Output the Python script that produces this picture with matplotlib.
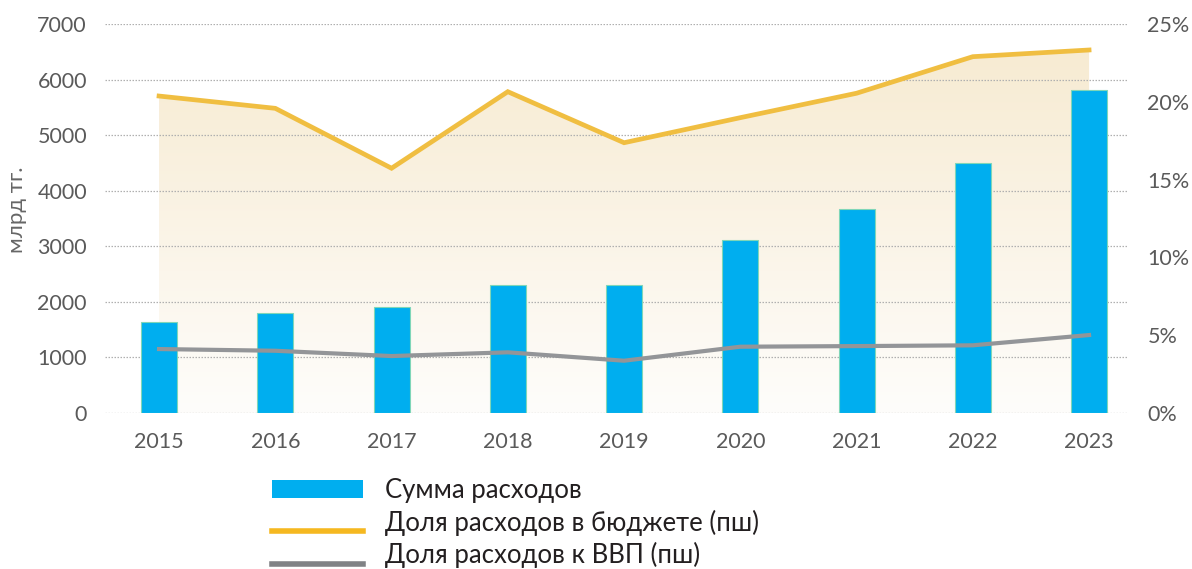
import numpy as np
import matplotlib
matplotlib.use("Agg")
import matplotlib.pyplot as plt
from matplotlib.patches import Polygon, Patch
from matplotlib.lines import Line2D
from matplotlib.colors import LinearSegmentedColormap
from matplotlib.ticker import FuncFormatter
from matplotlib.legend_handler import HandlerLine2D

plt.rcParams['font.family'] = ['Lato', 'DejaVu Sans']

years = ["2015", "2016", "2017", "2018", "2019", "2020", "2021", "2022", "2023"]
spending = [1630, 1800, 1913, 2303, 2303, 3119, 3671, 4504, 5812]
share_budget = [20.37, 19.58, 15.73, 20.65, 17.37, 18.98, 20.55, 22.9, 23.33]
share_gdp = [4.11, 4.0, 3.66, 3.9, 3.36, 4.26, 4.3, 4.35, 5.01]

labels = ["Сумма расходов", "Доля расходов в бюджете (пш)", "Доля расходов к ВВП (пш)"]

BLUE = "#00aeef"
YELLOW = "#f0be41"
GRAY = "#939598"
TICK = "#5a5a5a"

fig = plt.figure(figsize=(11.92, 5.69), dpi=100)
ax = fig.add_axes([105/1192, 1-413/569, (1128-105)/1192, (413-24)/569])
ax2 = ax.twinx()

x = np.arange(len(years))

ax.set_xlim(-0.465, 8.335)
ax.set_ylim(0, 7000)
ax2.set_ylim(0, 25)

# gradient fill under budget-share line
cmap = LinearSegmentedColormap.from_list("g", ["#fefdfb", "#f7ebd2"])
grad = np.linspace(0, 1, 256).reshape(-1, 1)
im = ax.imshow(grad, cmap=cmap, aspect="auto", origin="lower",
               extent=[x[0], x[-1], 0, max(share_budget) * 7000 / 25],
               zorder=0.2, interpolation="bicubic")
verts = [(x[0], 0)] + list(zip(x, share_budget)) + [(x[-1], 0)]
poly = Polygon(verts, closed=True, transform=ax2.transData, facecolor="none", edgecolor="none")
im.set_clip_path(poly)
ax.set_xlim(-0.465, 8.335)
ax.set_ylim(0, 7000)

ax.bar(x, spending, width=0.31, color=BLUE, edgecolor="#7fd6b8", linewidth=0.8, zorder=1)

ax2.plot(x, share_budget, color=YELLOW, lw=3.4, solid_joinstyle="miter", zorder=3)
ax2.plot(x, share_gdp, color=GRAY, lw=3.0, solid_joinstyle="miter", zorder=3)

ax.set_axisbelow(True)
ax.yaxis.grid(True, linestyle=(0, (1.2, 1.2)), color="#b0b0b0", lw=0.9)
ax.set_yticks(np.arange(0, 7001, 1000))
ax2.set_yticks(np.arange(0, 26, 5))
ax2.yaxis.set_major_formatter(FuncFormatter(lambda v, p: f"{int(v)}%"))
ax.set_xticks(x)
ax.set_xticklabels(years)

for a in (ax, ax2):
    for s in a.spines.values():
        s.set_visible(False)
ax.tick_params(axis="y", length=0, pad=13, labelsize=15.5, labelcolor=TICK)
ax.tick_params(axis="x", length=0, pad=14, labelsize=15.5, labelcolor=TICK)
ax2.tick_params(axis="y", length=0, pad=14, labelsize=15.5, labelcolor=TICK)

fig.text(17/1192, 1-210/569, "млрд тг.", rotation=90, ha="center", va="center",
         fontsize=16, color="#666666")


class LowLine(HandlerLine2D):
    def create_artists(self, legend, orig_handle, xdescent, ydescent,
                       width, height, fontsize, trans):
        arts = super().create_artists(legend, orig_handle, xdescent, ydescent,
                                      width, height, fontsize, trans)
        for a in arts:
            if isinstance(a, Line2D):
                a.set_ydata(np.asarray(a.get_ydata()) - 0.55 * height)
        return arts


yl = Line2D([], [], color="#f5b820", lw=4)
gl = Line2D([], [], color="#808285", lw=4)
handles = [Patch(facecolor=BLUE, edgecolor="none"), yl, gl]
fig.legend(handles, labels, loc="upper left", bbox_to_anchor=(272/1192, 1-478/569),
           frameon=False, fontsize=18.5, handlelength=3.55, handleheight=0.7,
           handletextpad=0.85, labelspacing=0.25, borderpad=0, borderaxespad=0,
           labelcolor="#231f20", handler_map={yl: LowLine(), gl: LowLine()})

fig.savefig("out.png", dpi=100)
